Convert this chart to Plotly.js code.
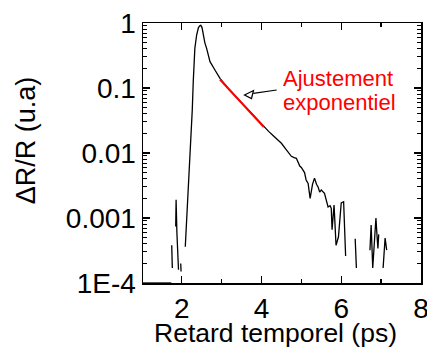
<!DOCTYPE html>
<html>
<head>
<meta charset="utf-8">
<script src="https://cdn.plot.ly/plotly-3.0.1.min.js"></script>
<style>html,body{margin:0;padding:0;background:#fff;}#chart{width:427px;height:347px;}</style>
</head>
<body>
<div id="chart"></div>
<script>
// Measured signal (ps, ΔR/R); null = gap where signal is not positive
const delay = [1.00,1.74,1.745,1.750,1.765,1.80,1.850,1.860,1.870,1.880,1.920,1.95,1.975,1.985,2.03,
  2.090,2.160,2.225,2.265,2.290,2.330,2.375,2.420,2.460,2.480,2.510,2.540,2.580,2.625,2.710,2.830,2.960,
  3.200,3.500,3.800,4.060,4.180,4.290,4.400,4.500,4.625,4.700,4.750,4.820,4.875,4.960,5.000,5.080,5.120,
  5.170,5.220,5.280,5.330,5.380,5.420,5.460,5.500,5.580,5.670,5.720,5.750,5.770,5.820,5.870,5.930,6.000,
  6.060,6.110,6.20,6.350,6.360,6.380,6.50,6.720,6.750,6.790,6.850,6.870,6.900,6.920,6.940,7.00,7.050,7.100,7.140];
const signal = [1e-4,1e-4,null,3.8e-4,1.7e-4,null,7.4e-4,1.9e-3,1.05e-3,6.0e-4,1.6e-4,null,2.0e-4,1.5e-4,null,
  3.6e-4,2.1e-3,0.0112,0.0457,0.126,0.407,0.653,0.851,0.912,0.920,0.850,0.653,0.500,0.407,0.254,0.191,0.141,
  0.093,0.0594,0.0377,0.0251,0.0215,0.0186,0.0162,0.0141,0.0112,0.0098,0.0089,0.0085,0.0083,0.0063,0.0060,0.0050,0.00385,
  0.0034,0.0020,0.0033,0.0041,0.0033,0.0030,0.0025,0.0027,0.0024,0.00148,0.00155,0.00141,0.00066,0.00158,0.00038,0.00051,0.0017,
  0.00178,0.00026,null,0.00048,0.00030,0.00017,null,0.00032,0.00078,0.00017,0.00089,0.0010,0.00050,0.00034,0.00056,null,0.00017,0.00049,0.00032];

// Exponential fit segment
const fitDelay = [2.96, 3.50, 4.06];
const fitSignal = [0.135, 0.0594, 0.0251];

// Axis ticks
const yTickVals = [1e-4, 1e-3, 1e-2, 1e-1, 1];
const yTickText = ['1E-4', '0.001', '0.01', '0.1', '1'];
const yMinorVals = [];
[1e-4, 1e-3, 1e-2, 1e-1].forEach(d => { for (let k = 2; k <= 9; k++) yMinorVals.push(k * d); });

const FONT = 'Liberation Sans, Arial, sans-serif';

const traces = [
  {x: delay, y: signal, type: 'scatter', mode: 'lines', connectgaps: false,
   line: {color: '#000000', width: 1.3}, hoverinfo: 'skip'},
  {x: fitDelay, y: fitSignal, type: 'scatter', mode: 'lines',
   line: {color: '#ff0000', width: 2}, hoverinfo: 'skip'}
];

const layout = {
  width: 427, height: 347,
  margin: {l: 143, r: 6, t: 23, b: 64},
  paper_bgcolor: '#ffffff', plot_bgcolor: '#ffffff',
  showlegend: false,
  font: {family: FONT, color: '#000000'},
  xaxis: {
    range: [1.03, 8], tick0: 0, dtick: 2,
    ticks: 'inside', ticklen: 7, tickwidth: 1.3, tickcolor: '#000',
    minor: {dtick: 1, ticks: 'inside', ticklen: 4, tickwidth: 1.3, tickcolor: '#000'},
    showline: true, linecolor: '#000', linewidth: 1.5, mirror: 'allticks',
    showgrid: false, zeroline: false, ticklabeloverflow: 'allow',
    tickfont: {family: FONT, size: 28, color: '#000'}
  },
  yaxis: {
    type: 'log', range: [-4, 0],
    tickmode: 'array', tickvals: yTickVals, ticktext: yTickText,
    ticks: 'inside', ticklen: 7, tickwidth: 1.3, tickcolor: '#000',
    minor: {tickmode: 'array', tickvals: yMinorVals, ticks: 'inside', ticklen: 4, tickwidth: 1, tickcolor: '#000', showgrid: false},
    showline: true, linecolor: '#000', linewidth: 1.5, mirror: 'allticks',
    showgrid: false, zeroline: false,
    tickfont: {family: FONT, size: 28, color: '#000'}
  },
  annotations: [
    {text: 'Retard temporel (ps)', xref: 'paper', yref: 'paper', x: 0.478, y: -0.194,
     xanchor: 'center', yanchor: 'middle', showarrow: false, borderpad: 0, font: {family: FONT, size: 26.5, color: '#000'}},
    {text: 'ΔR/R (u.a)', xref: 'paper', yref: 'paper', x: -0.42, y: 0.55, textangle: -90,
     xanchor: 'center', yanchor: 'middle', showarrow: false, font: {family: FONT, size: 27, color: '#000'}},
    {text: 'Ajustement', xref: 'paper', yref: 'paper', x: 0.496, y: 0.788,
     xanchor: 'left', yanchor: 'middle', showarrow: false, font: {family: FONT, size: 22, color: '#ff0000'}},
    {text: 'exponentiel', xref: 'paper', yref: 'paper', x: 0.496, y: 0.696,
     xanchor: 'left', yanchor: 'middle', showarrow: false, font: {family: FONT, size: 22, color: '#ff0000'}}
  ],
  shapes: [
    {type: 'line', xref: 'paper', yref: 'paper', x0: 0.3968, y0: 0.7296, x1: 0.481, y1: 0.7423,
     line: {color: '#000', width: 1.2}},
    {type: 'path', xref: 'paper', yref: 'paper',
     path: 'M 0.3651 0.7231 L 0.3975 0.7404 L 0.3903 0.7096 Z',
     fillcolor: '#ffffff', line: {color: '#000', width: 1.2}}
  ]
};

Plotly.newPlot('chart', traces, layout, {staticPlot: true, displayModeBar: false});
</script>
</body>
</html>
